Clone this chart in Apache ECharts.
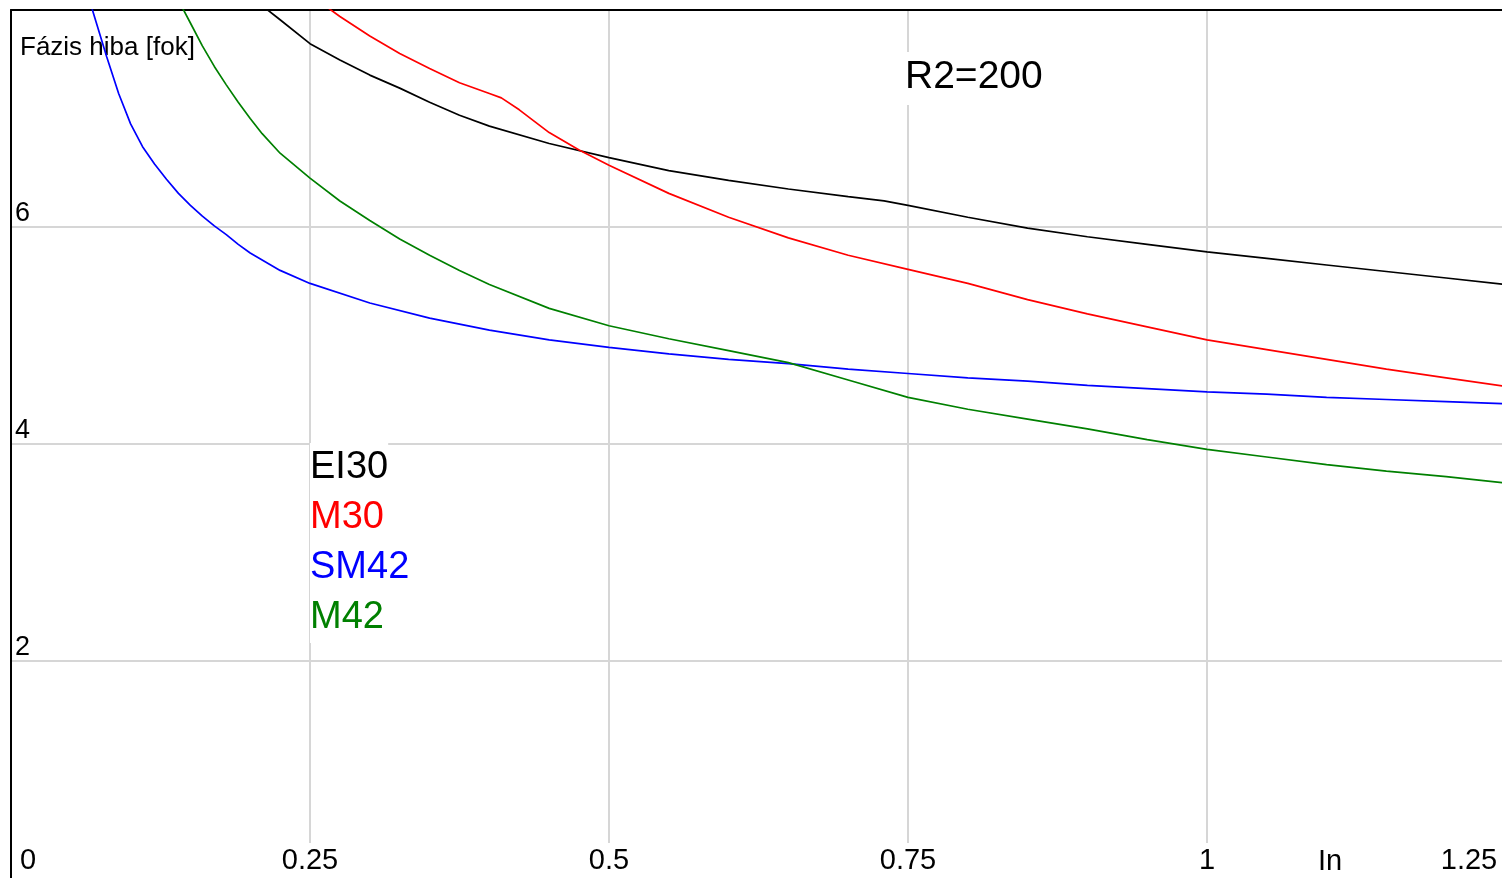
<!DOCTYPE html>
<html>
<head>
<meta charset="utf-8">
<title>Fázis hiba – R2=200</title>
<script src="https://cdn.jsdelivr.net/npm/echarts@6/dist/echarts.min.js"></script>
<style>
  html, body { margin: 0; padding: 0; background: #fff; }
  #chart { width: 1502px; height: 878px; }
</style>
</head>
<body>
<div id="chart"></div>
<script>
// Phase error [degrees] versus current (In) for four core types, R2 = 200
const seriesNames = ['EI30', 'M30', 'SM42', 'M42'];
const seriesColors = ['#000000', '#ff0000', '#0000ff', '#008000'];

const ei30X = [0.21, 0.225, 0.25, 0.275, 0.30, 0.325, 0.35, 0.375, 0.40, 0.45, 0.50, 0.55, 0.60, 0.65, 0.70, 0.73, 0.75, 0.80, 0.85, 0.90, 0.95, 1.00, 1.05, 1.10, 1.15, 1.20, 1.25];
const ei30Y = [8.04, 7.91, 7.69, 7.54, 7.40, 7.28, 7.15, 7.03, 6.93, 6.77, 6.64, 6.52, 6.43, 6.35, 6.28, 6.24, 6.20, 6.09, 5.99, 5.91, 5.84, 5.77, 5.71, 5.65, 5.59, 5.53, 5.47];

const m30X = [0.26, 0.275, 0.30, 0.325, 0.35, 0.375, 0.40, 0.41, 0.425, 0.45, 0.475, 0.50, 0.55, 0.60, 0.65, 0.70, 0.75, 0.80, 0.85, 0.90, 0.95, 1.00, 1.05, 1.10, 1.15, 1.20, 1.25];
const m30Y = [8.06, 7.94, 7.76, 7.60, 7.46, 7.33, 7.23, 7.19, 7.08, 6.87, 6.71, 6.57, 6.31, 6.09, 5.90, 5.74, 5.61, 5.48, 5.33, 5.20, 5.08, 4.96, 4.87, 4.78, 4.69, 4.61, 4.53];

const sm42X = [0.06, 0.07, 0.08, 0.09, 0.10, 0.11, 0.12, 0.13, 0.14, 0.15, 0.16, 0.17, 0.18, 0.19, 0.20, 0.225, 0.25, 0.30, 0.35, 0.40, 0.45, 0.50, 0.55, 0.60, 0.65, 0.70, 0.75, 0.80, 0.85, 0.90, 0.95, 1.00, 1.05, 1.10, 1.15, 1.20, 1.25];
const sm42Y = [8.30, 7.93, 7.57, 7.23, 6.95, 6.74, 6.58, 6.44, 6.31, 6.20, 6.10, 6.01, 5.93, 5.84, 5.76, 5.60, 5.48, 5.30, 5.16, 5.05, 4.96, 4.89, 4.83, 4.78, 4.74, 4.69, 4.65, 4.61, 4.58, 4.54, 4.51, 4.48, 4.46, 4.43, 4.41, 4.39, 4.37];

const m42X = [0.14, 0.15, 0.16, 0.17, 0.18, 0.19, 0.20, 0.21, 0.225, 0.25, 0.275, 0.30, 0.325, 0.35, 0.375, 0.40, 0.45, 0.50, 0.55, 0.60, 0.65, 0.70, 0.75, 0.80, 0.85, 0.90, 0.95, 1.00, 1.05, 1.10, 1.15, 1.20, 1.25];
const m42Y = [8.09, 7.88, 7.67, 7.48, 7.31, 7.15, 7.00, 6.86, 6.68, 6.45, 6.24, 6.06, 5.89, 5.74, 5.60, 5.47, 5.25, 5.09, 4.97, 4.86, 4.75, 4.59, 4.43, 4.32, 4.23, 4.14, 4.04, 3.95, 3.88, 3.81, 3.75, 3.70, 3.64];

const xTicks = [0, 0.25, 0.5, 0.75, 1, 1.25];
const yTicks = [0, 2, 4, 6, 8];

const yTitle = 'Fázis hiba [fok]';
const xTitle = 'In';
const paramText = 'R2=200';

const FONT = '"Liberation Sans", Arial, sans-serif';

const pairs = (xs, ys) => xs.map((x, i) => [x, ys[i]]);
const allX = [ei30X, m30X, sm42X, m42X];
const allY = [ei30Y, m30Y, sm42Y, m42Y];

const chart = echarts.init(document.getElementById('chart'), null, { renderer: 'canvas' });

const xMin = xTicks[0], xMax = xTicks[xTicks.length - 1];
const yMin = yTicks[0], yMax = yTicks[yTicks.length - 1];

chart.setOption({
  animation: false,
  backgroundColor: '#ffffff',
  grid: { left: 11, top: 10, width: 1495, height: 868, containLabel: false, outerBoundsMode: 'none' },
  xAxis: [
    {
      type: 'value', position: 'bottom',
      min: xMin, max: xMax, interval: 0.25,
      axisLine: { show: false },
      axisTick: { show: false },
      splitLine: { show: true, showMinLine: false, lineStyle: { color: '#d6d6d6', width: 2 } },
      axisLabel: {
        inside: true, margin: 0,
        color: '#000', fontFamily: FONT, fontSize: 29,
        formatter: function (v) {
          if (v === xMin) return '{first|' + v + '}';
          if (v === xMax) return '{last|' + v + '}';
          return '{mid|' + v + '}';
        },
        rich: {
          mid: { fontFamily: FONT, fontSize: 29, color: '#000', backgroundColor: '#fff', padding: [3, 2, 3, 2] },
          first: { fontFamily: FONT, fontSize: 29, color: '#000', padding: [3, 0, 3, 34] },
          last: { fontFamily: FONT, fontSize: 29, color: '#000', padding: [3, 74, 3, 0] }
        }
      }
    },
    {
      type: 'value', position: 'top',
      min: xMin, max: xMax,
      axisLine: { show: true, lineStyle: { color: '#000', width: 2 } },
      axisTick: { show: false },
      axisLabel: { show: false },
      splitLine: { show: false }
    }
  ],
  yAxis: {
    type: 'value', position: 'left',
    min: yMin, max: yMax, interval: 2,
    axisLine: { show: true, lineStyle: { color: '#000', width: 2 } },
    axisTick: { show: false },
    splitLine: { show: true, showMinLine: false, showMaxLine: false, lineStyle: { color: '#d6d6d6', width: 2 } },
    axisLabel: {
      inside: true, margin: 4,
      showMinLabel: false, showMaxLabel: false,
      color: '#000', fontFamily: FONT, fontSize: 27,
      verticalAlign: 'bottom', padding: [0, 0, 0, 0]
    }
  },
  legend: {
    orient: 'vertical',
    left: 305, top: 443,
    padding: 0,
    itemGap: 0,
    itemWidth: 0, itemHeight: 0,
    icon: 'none',
    selectedMode: false,
    textStyle: { fontFamily: FONT, fontSize: 38, lineHeight: 50, backgroundColor: '#fff' },
    data: seriesNames.map((n, i) => ({ name: n, icon: 'none', textStyle: { color: seriesColors[i] } }))
  },
  graphic: [
    {
      type: 'text', left: 20, top: 35, z: 1,
      style: { text: yTitle, font: '26px ' + FONT, fill: '#000' }
    },
    {
      type: 'text', left: 1318, top: 847, z: 1,
      style: { text: xTitle, font: '29px ' + FONT, fill: '#000' }
    },
    {
      type: 'text', left: 902, top: 52, z: 10,
      style: { text: paramText, font: '39px ' + FONT, fill: '#000', backgroundColor: '#fff', padding: [6, 3, 8, 3] }
    }
  ],
  series: seriesNames.map((n, i) => ({
    name: n,
    type: 'line',
    xAxisIndex: 0,
    data: pairs(allX[i], allY[i]),
    showSymbol: false,
    symbol: 'none',
    smooth: false,
    clip: true,
    color: seriesColors[i],
    lineStyle: { color: seriesColors[i], width: 1.7 },
    z: 3
  }))
});
</script>
</body>
</html>
